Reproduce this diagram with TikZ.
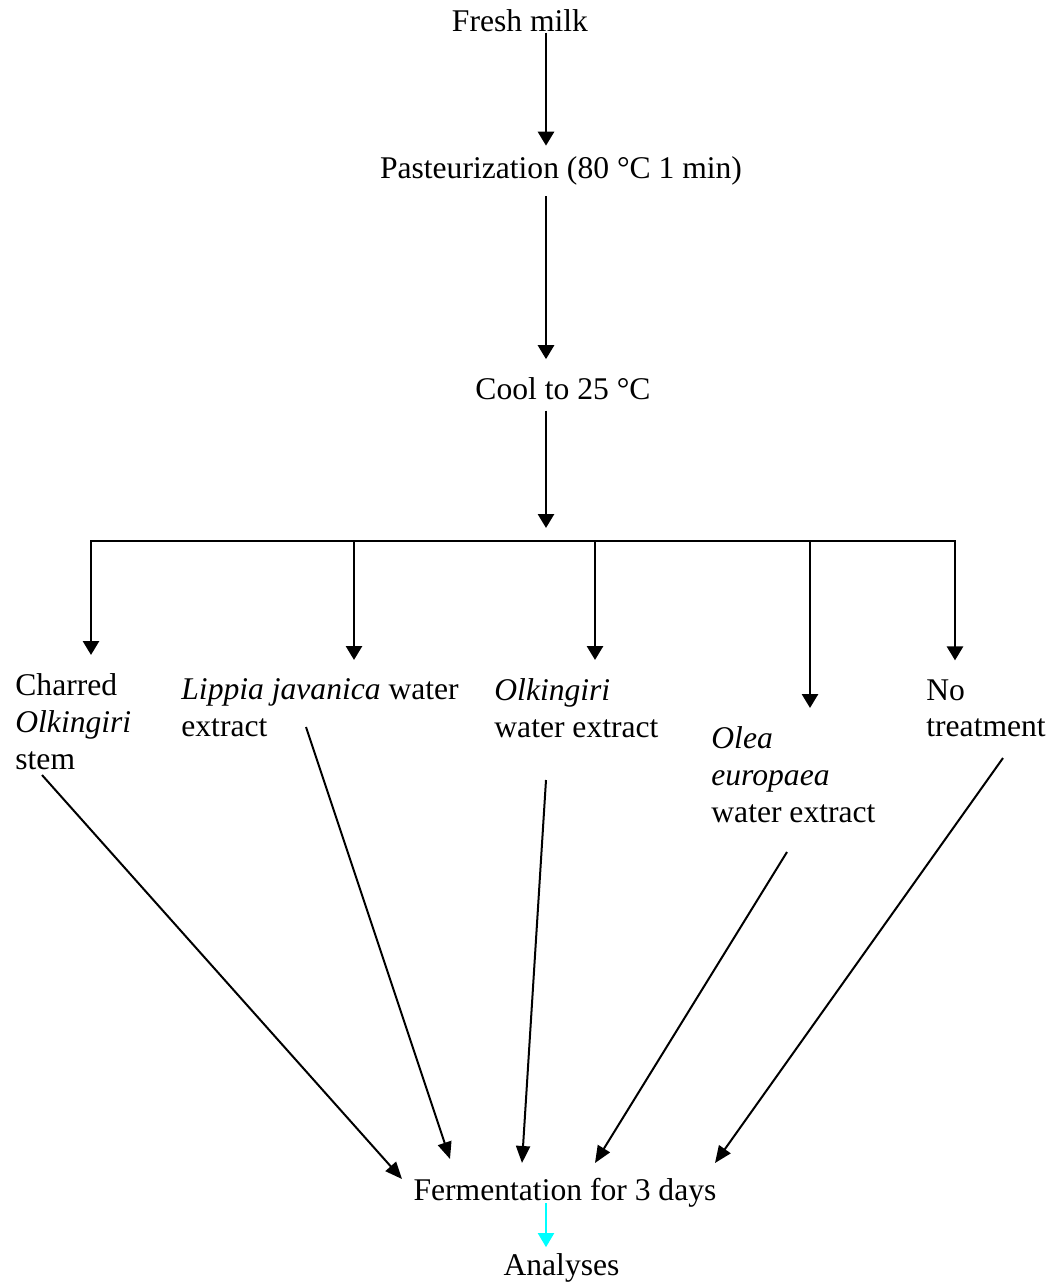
\documentclass[tikz,border=0pt]{standalone}
\usepackage{fontspec}
\setmainfont{Liberation Serif}
\usetikzlibrary{arrows.meta}
\definecolor{aqua}{RGB}{0,255,255}

\begin{document}
\begin{tikzpicture}[x=0.5pt, y=-0.5pt,
    stage/.style={inner sep=0pt, anchor=base},
    choice/.style={inner sep=0pt, anchor=north west, align=left},
    flow/.style={-{Triangle[width=8pt,length=7pt]}, line width=1.4pt},
    feed/.style={-{Triangle[width=7pt,length=8.5pt]}, line width=1pt},
    font=\fontsize{15.8}{18.3}\selectfont]
\useasboundingbox (0,0) rectangle (1057,1285);
\node[stage] (milk) at (520,32) {Fresh milk};
\node[stage] (past) at (561,178) {Pasteurization (80 °C 1 min)};
\node[stage] (cool) at (563,399) {Cool to 25 °C};
\coordinate (split) at (546,541);
\coordinate (b1) at (91,541);
\coordinate (b2) at (354,541);
\coordinate (b3) at (595,541);
\coordinate (b4) at (810,541);
\coordinate (b5) at (955,541);
\node[choice] (charred) at (15,673.6) {Charred\\\textit{Olkingiri}\\stem};
\node[choice] (lippia) at (181,678.6) {\textit{Lippia javanica} water\\extract};
\node[choice] (olk) at (494,678.6) {\textit{Olkingiri}\\water extract};
\node[choice] (olea) at (711,726.6) {\textit{Olea}\\\textit{europaea}\\water extract};
\node[choice] (none) at (926,679) {No\\treatment};
\node[stage] (ferm) at (565,1200) {Fermentation for 3 days};
\node[stage] (ana) at (561.5,1275) {Analyses};
\draw[flow, shorten >=5pt] (milk.south -| split) -- (past.north -| split);
\draw[flow, shorten <=5.5pt, shorten >=8.75pt] (past.south -| split) -- (cool.north -| split);
\draw[flow, shorten <=5.5pt, shorten >=6.5pt] (cool.south -| split) -- (split);
\draw[line width=1.4pt, line cap=rect] (b1) -- (b5);
\foreach \b/\t in {b1/charred, b2/lippia, b3/olk, b4/olea, b5/none}
  \draw[flow, shorten >=9.3pt] (\b) -- (\b |- \t.north);
\coordinate (s1) at (42,775);
\coordinate (s2) at (306,727);
\coordinate (s3) at (546,780);
\coordinate (s4) at (787,852);
\coordinate (s5) at (1003,758);
\coordinate (e1) at (402,1179);
\coordinate (e2) at (450,1159);
\coordinate (e3) at (522,1163);
\coordinate (e4) at (595,1163);
\coordinate (e5) at (715,1163);
\foreach \i in {1,...,5}
  \draw[feed] (s\i) -- (e\i);
\draw[flow, aqua, line width=1pt, shorten <=-2pt, shorten >=2.75pt] (ferm.south -| split) -- (ana.north -| split);
\end{tikzpicture}
\end{document}
